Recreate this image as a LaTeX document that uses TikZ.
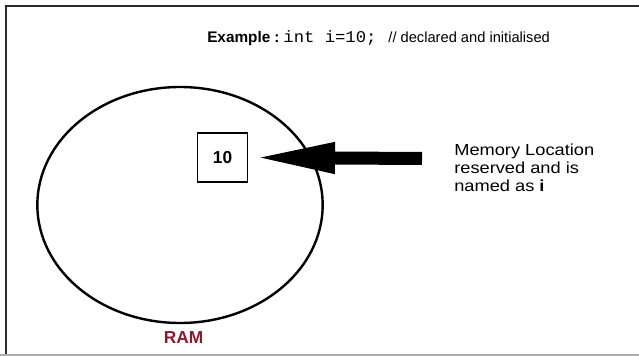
\documentclass[tikz,border=0pt]{standalone}
\usepackage{fontspec}
\setmainfont{Liberation Sans}
\newfontfamily\codefont{Liberation Mono}
\usetikzlibrary{arrows.meta,shapes.geometric}
\definecolor{ramred}{HTML}{8B1A2E}
\definecolor{framegray}{HTML}{2A2A2A}
\tikzset{
  memcell/.style={draw, line width=0.8pt, minimum width=37.5pt, minimum height=36.75pt, inner sep=0pt, font=\fontsize{13}{15}\selectfont\bfseries},
  bigarrow/.style={line width=9.75pt, -{Triangle[length=62.25pt,width=21pt]}, shorten >=3pt},
  label/.style={inner sep=0pt, align=left},
}
\begin{document}
\begin{tikzpicture}[x=0.75pt,y=-0.75pt]
\useasboundingbox (0,0) rectangle (639,356);
\fill[white] (0,0) rectangle (639,356);
% page frame
\draw[framegray, line width=1.8pt] (6,356) -- (6,6) -- (639,6);
\draw[black!32, line width=1.5pt] (0,354.5) -- (639,354.5);
% heading with the declaration
\node[label, anchor=base west] (head) at (207,43)
  {\fontsize{11.5}{13}\selectfont\bfseries Example\hspace{3pt}:\hspace{3pt}\mdseries\codefont\fontsize{12.3}{14}\selectfont\scalebox{1.05}[1]{int i=10;}\hspace{9pt}\fontsize{11}{13}\rmfamily\selectfont // declared and initialised};
% RAM
\node[draw, ellipse, line width=1.8pt, minimum width=214pt, minimum height=177pt, inner sep=0pt] (ram) at (180,205) {};
\node[label, text=ramred, font=\fontsize{13}{15}\selectfont\bfseries] (ramlabel) at (183.5,338) {RAM};
% memory cell
\node[memcell] (cell) at (222.5,157.5) {10};
\coordinate (tail) at (422,158.5);
\draw[bigarrow] (tail) -- (cell.east);
% description
\node[label, anchor=north west, font=\fontsize{12}{13.5}\selectfont, xscale=1.14, transform shape] (desc) at (454,144)
  {Memory Location\\reserved and is\\named as \textbf{i}};
\end{tikzpicture}
\end{document}
